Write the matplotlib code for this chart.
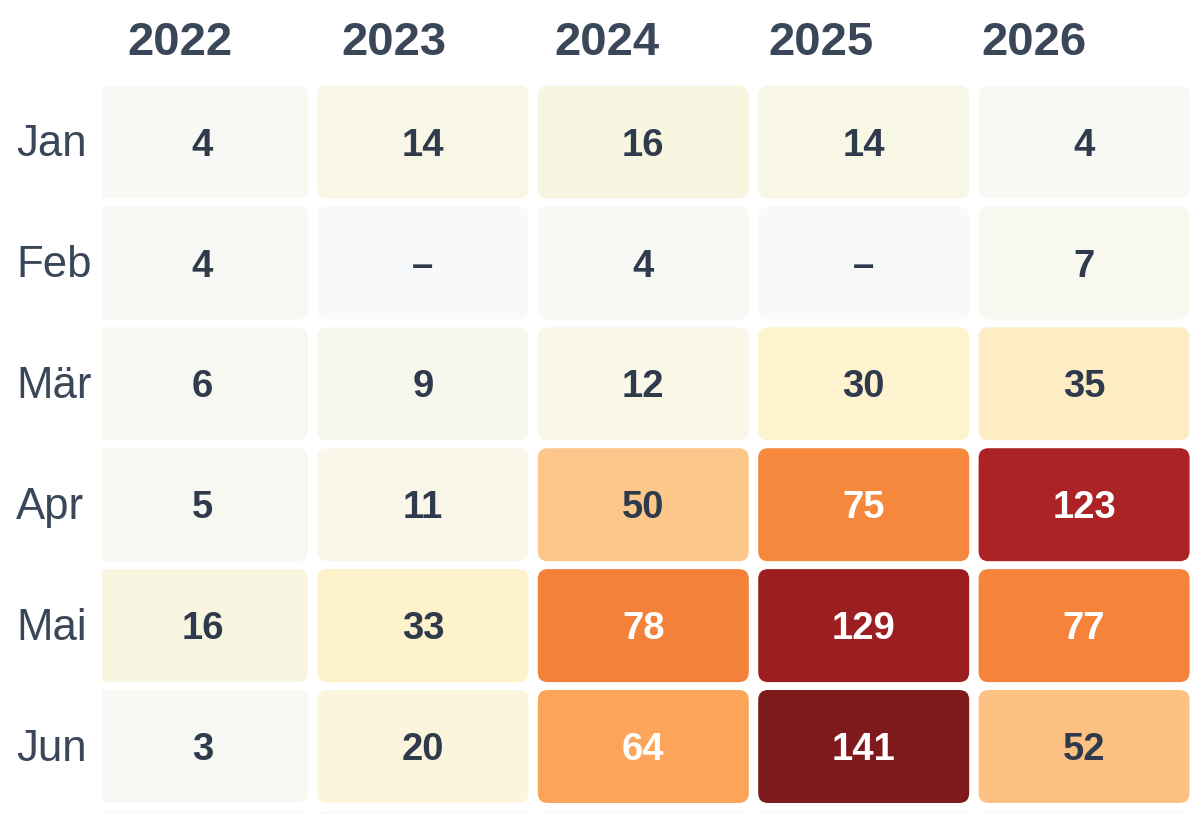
import numpy as np
import matplotlib
matplotlib.use("Agg")
import matplotlib.pyplot as plt
from matplotlib.patches import FancyBboxPatch
from matplotlib.colors import LinearSegmentedColormap


# -------------------------------
# DATA
# -------------------------------
years = ["2022", "2023", "2024", "2025", "2026"]
months = ["Jan", "Feb", "Mär", "Apr", "Mai", "Jun", "Jul"]

# None = no value ("–"); Jul row is only a cut-off sliver in the picture
v2022 = [4, 4, 6, 5, 16, 3, None]
v2023 = [14, None, 9, 11, 33, 20, None]
v2024 = [16, 4, 12, 50, 78, 64, None]
v2025 = [14, None, 30, 75, 129, 141, None]
v2026 = [4, 7, 35, 123, 77, 52, None]

columns = [v2022, v2023, v2024, v2025, v2026]

# colour anchors (value, colour)
anchor_values = [0, 4, 15, 33, 50, 64, 77, 125, 141]
anchor_colors = ["#f8f8f6", "#f8f8f5", "#f8f6e2", "#fef2cb", "#fdc68a",
                 "#fca55a", "#f5833a", "#a81f23", "#7e1a1c"]
missing_color = "#f7f9fb"


# -------------------------------
# COLOUR MAP
# -------------------------------
vmax = anchor_values[-1]
cmap = LinearSegmentedColormap.from_list(
    "heat", [(v / vmax, c) for v, c in zip(anchor_values, anchor_colors)])

dark_text = "#2f3b4c"
label_text = "#3a4759"

plt.rcParams['font.family'] = ['Liberation Sans', 'DejaVu Sans']

W, H = 1200, 814
fig = plt.figure(figsize=(W / 100, H / 100), dpi=100)

# pixel geometry of the grid
col_center0, col_pitch = 202.5, 220.4
row_center0, row_pitch = 142.0, 120.9
ax_left_px, ax_top_px = 102, 80

ax = fig.add_axes([ax_left_px / W, 0, 1 - ax_left_px / W, 1 - ax_top_px / H])
ax.set_xlim((ax_left_px - col_center0) / col_pitch, (W - col_center0) / col_pitch)
ax.set_ylim((H - row_center0) / row_pitch, (ax_top_px - row_center0) / row_pitch)
ax.axis("off")

cw = 211 / col_pitch
ch = 113 / row_pitch
aspect = col_pitch / row_pitch
ymax_vis = (H - row_center0) / row_pitch

for i, col in enumerate(columns):
    for j, val in enumerate(col):
        face = missing_color if val is None else cmap(val / vmax)
        box = FancyBboxPatch((i - cw / 2, j - ch / 2), cw, ch,
                             boxstyle="round,pad=0,rounding_size=0.045",
                             mutation_aspect=aspect,
                             facecolor=face, edgecolor="none")
        ax.add_patch(box)
        if j > ymax_vis:
            continue
        txt = "–" if val is None else str(val)
        color = "white" if (val is not None and val >= 60) else dark_text
        ax.text(i, j + 0.03, txt, ha="center", va="center", fontsize=27.5,
                fontweight="bold", color=color)

# month labels on the left
for j, m in enumerate(months):
    yc = row_center0 + row_pitch * j
    if yc > H:
        continue
    fig.text(16 / W, 1 - (yc + 3) / H, m, ha="left", va="center",
             fontsize=31.5, color=label_text)

# year header
for i, y in enumerate(years):
    fig.text((180 + 213.5 * i) / W, 1 - 43 / H, y, ha="center", va="center",
             fontsize=34, fontweight="bold", color=label_text)

fig.savefig("out.png", dpi=100, facecolor="white")
